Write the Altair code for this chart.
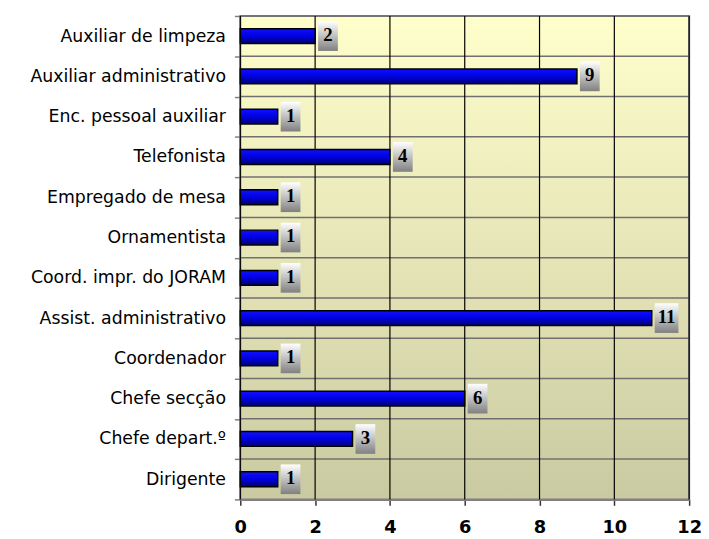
import altair as alt
import pandas as pd

categories = [
    "Auxiliar de limpeza",
    "Auxiliar administrativo",
    "Enc. pessoal auxiliar",
    "Telefonista",
    "Empregado de mesa",
    "Ornamentista",
    "Coord. impr. do JORAM",
    "Assist. administrativo",
    "Coordenador",
    "Chefe secção",
    "Chefe depart.º",
    "Dirigente",
]
values = [2, 9, 1, 4, 1, 1, 1, 11, 1, 6, 3, 1]
x_ticks = [0, 2, 4, 6, 8, 10, 12]

df = pd.DataFrame({"cat": categories, "val": values})
df["lbl"] = df["val"].astype(str)
df["digits"] = df["lbl"].str.len()
ticks_df = pd.DataFrame({"t": x_ticks})

W, H = 454, 489

y_scale = alt.Scale(paddingInner=0, paddingOuter=0)
y_enc = alt.Y(
    "cat:N",
    sort=categories,
    scale=y_scale,
    axis=alt.Axis(
        title=None,
        tickBand="extent",
        grid=False,
        tickColor="#808080",
        tickSize=6,
        tickWidth=1.5,
        domain=False,
        labelFont="DejaVu Sans",
        labelFontSize=17.5,
        labelColor="#000000",
        labelPadding=9,
        labelLimit=300,
    ),
)

x_scale = alt.Scale(domain=[0, 12], nice=False)
x_axis = alt.Axis(
    title=None,
    values=x_ticks,
    grid=False,
    tickColor="#333333",
    tickSize=6,
    tickWidth=1.5,
    domain=True,
    domainColor="#808080",
    domainWidth=2,
    labelFont="DejaVu Sans",
    labelFontSize=18,
    labelFontWeight="bold",
    labelColor="#000000",
    labelPadding=14,
    labelFlush=False,
)

bg = alt.Chart(pd.DataFrame({"a": [0]})).mark_rect(
    color=alt.Gradient(
        gradient="linear",
        x1=0, x2=0, y1=0, y2=1,
        stops=[
            alt.GradientStop(offset=0, color="#FFFFCC"),
            alt.GradientStop(offset=1, color="#CACAA2"),
        ],
    ),
    stroke="#808080",
    strokeWidth=2,
).encode(
    x=alt.value(0), x2=alt.value(W), y=alt.value(0), y2=alt.value(H)
)

hrules = alt.Chart(df).mark_rule(color="#707070", strokeWidth=1.5).encode(
    y=alt.Y("cat:N", sort=categories, bandPosition=0, scale=y_scale),
)

vrules = alt.Chart(ticks_df).mark_rule(color="#000000", strokeWidth=1.2).encode(
    x=alt.X("t:Q", scale=x_scale),
)

bars = alt.Chart(df).mark_bar(
    size=15,
    color=alt.Gradient(
        gradient="linear",
        x1=0, x2=0, y1=0, y2=1,
        stops=[
            alt.GradientStop(offset=0, color="#1010FF"),
            alt.GradientStop(offset=0.5, color="#0000E0"),
            alt.GradientStop(offset=1, color="#000070"),
        ],
    ),
    stroke="#000000",
    strokeWidth=1.5,
).encode(
    x=alt.X("val:Q", scale=x_scale, axis=x_axis),
    y=y_enc,
)

box_grad = alt.Gradient(
    gradient="linear",
    x1=0, x2=0, y1=0, y2=1,
    stops=[
        alt.GradientStop(offset=0, color="#FFFFFF"),
        alt.GradientStop(offset=1, color="#808080"),
    ],
)

box1 = alt.Chart(df).transform_filter("datum.digits == 1").mark_bar(
    size=30, color=box_grad, xOffset=3, x2Offset=23
).encode(
    x=alt.X("val:Q", scale=x_scale),
    x2="val:Q",
    y=alt.Y("cat:N", sort=categories),
)
box2 = alt.Chart(df).transform_filter("datum.digits == 2").mark_bar(
    size=30, color=box_grad, xOffset=3, x2Offset=27
).encode(
    x=alt.X("val:Q", scale=x_scale),
    x2="val:Q",
    y=alt.Y("cat:N", sort=categories),
)

text1 = alt.Chart(df).transform_filter("datum.digits == 1").mark_text(
    font="Liberation Serif", fontSize=19, fontWeight="bold", color="#000000",
    align="center", baseline="middle", dx=13, dy=-1,
).encode(
    x=alt.X("val:Q", scale=x_scale),
    y=alt.Y("cat:N", sort=categories),
    text="lbl:N",
)
text2 = alt.Chart(df).transform_filter("datum.digits == 2").mark_text(
    font="Liberation Serif", fontSize=19, fontWeight="bold", color="#000000",
    align="center", baseline="middle", dx=15, dy=-1,
).encode(
    x=alt.X("val:Q", scale=x_scale),
    y=alt.Y("cat:N", sort=categories),
    text="lbl:N",
)

chart = alt.layer(bg, hrules, vrules, bars, box1, box2, text1, text2).properties(
    width=W,
    height=H,
    autosize=alt.AutoSizeParams(type="none"),
    padding={"left": 235, "top": 5, "right": 12, "bottom": 37},
).configure_view(stroke=None).configure(background="#FFFFFF")

chart.save("out.html", embed_options={"renderer": "svg", "actions": False})
